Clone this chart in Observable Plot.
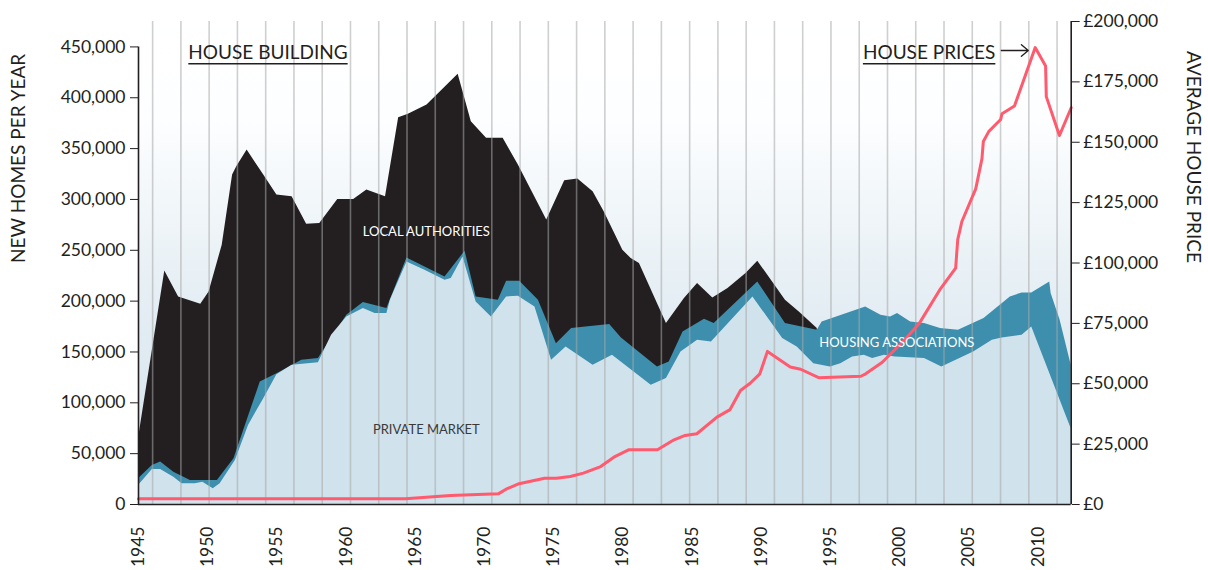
<!DOCTYPE html>
<html><head><meta charset="utf-8">
<script src="https://cdn.jsdelivr.net/npm/d3@7"></script>
<script src="https://cdn.jsdelivr.net/npm/@observablehq/plot@0.6"></script>
<style>
html,body{margin:0;padding:0;background:#fff;}
#chart{width:1208px;height:570px;}
svg{display:block;}
</style></head><body><div id="chart"></div>
<script>
// ---- Data ----
// Total completions (top of local authorities band)
const totalYears  = [1945.0,1946.9,1947.9,1949.5,1950.1,1951.05,1951.8,1952.1,1952.85,1954.05,1955.0,1956.1,1957.15,1958.1,1959.4,1960.55,1961.5,1962.85,1963.8,1964.5,1965.85,1967.55,1968.1,1969.05,1970.15,1971.35,1972.45,1974.5,1975.8,1976.75,1977.85,1978.65,1980.0,1980.6,1981.2,1983.15,1984.45,1985.4,1986.5,1987.6,1988.9,1989.75,1991.75,1992.75,1994.05];
const totalValues = [65000,229700,204100,196900,209000,255000,324000,332100,348600,324000,304300,302600,275700,276400,300000,300000,309200,302600,380400,383700,392900,415800,423100,376400,360100,360100,333800,279700,318400,320000,307500,287800,250100,241900,237000,177900,202500,217300,203100,212400,227200,239300,200900,189400,173000];

// Private market + housing associations (top of housing associations band)
const haYears  = [1945.0,1946.0,1946.6,1947.55,1948.75,1950.7,1951.9,1953.8,1955.0,1956.8,1958.0,1960.05,1961.25,1962.95,1964.4,1967.15,1968.6,1969.4,1970.15,1971.0,1971.6,1972.55,1973.9,1975.2,1976.3,1979.05,1979.9,1982.5,1983.35,1984.35,1985.9,1986.6,1989.75,1991.75,1994.05,1994.4,1997.55,1998.65,1999.35,1999.85,2000.8,2001.8,2002.95,2004.25,2006.1,2008.0,2008.85,2009.55,2010.85,2010.95,2011.6,2012.4];
const haValues = [25300,38400,41700,31800,23600,23600,45000,120400,128700,141800,143500,186100,198600,192700,242500,223800,249100,204100,202500,200900,219600,219600,200900,158200,173000,176900,163800,135200,140100,169700,182200,177900,218900,177900,171300,179500,194300,186100,184400,187800,179500,177900,173000,171300,182900,204100,208100,208100,218900,207500,181200,136900];

// Private market
const privateYears  = [1945.0,1946.0,1946.6,1947.55,1948.15,1949.1,1949.65,1950.4,1950.9,1952.0,1952.95,1954.05,1955.0,1956.1,1958.0,1958.95,1960.05,1961.25,1962.1,1962.95,1963.2,1964.4,1965.7,1967.15,1967.6,1968.45,1969.4,1970.5,1971.6,1972.45,1973.65,1974.85,1975.9,1977.85,1979.25,1982.05,1983.15,1984.2,1985.4,1986.4,1989.4,1991.55,1992.6,1993.8,1995.0,1995.75,1996.6,1997.45,1998.05,1998.9,1999.7,2001.8,2003.05,2005.35,2006.7,2007.4,2008.85,2009.55,2012.4];
const privateValues = [18700,34500,34500,26900,20400,20400,22000,15500,20400,43300,77800,104100,127700,136900,139500,166400,184400,192700,187800,187800,200900,238600,230400,220600,222200,243500,199200,184400,204100,204800,194300,141800,154900,136900,146700,117200,123800,150000,161500,159800,204100,163200,154900,138500,135200,138500,145000,146700,143500,146700,145000,143500,135200,150000,161500,163800,166400,174600,74500];

// Average house price (£)
const priceYears  = [1945.0,1964.3,1967.55,1971.0,1971.65,1972.5,1973.25,1974.35,1975.2,1976.2,1977.15,1978.4,1979.35,1980.45,1982.5,1983.7,1984.5,1985.35,1986.8,1987.75,1988.5,1989.2,1989.9,1990.45,1992.1,1992.85,1994.15,1997.2,1997.55,1998.75,2000.2,2001.4,2002.95,2004.05,2004.2,2004.5,2005.5,2005.95,2006.05,2006.45,2007.3,2007.4,2008.3,2009.8,2010.55,2010.6,2011.55,2012.4];
const priceValues = [2400,2400,3700,4400,6600,8600,9500,10900,10900,11600,13000,15700,19600,22700,22700,26800,28600,29300,36200,39300,47200,50200,54100,63400,56900,56000,52500,53100,54100,58900,67200,74800,89300,97900,109700,117200,130700,143100,150300,154500,159400,161800,165000,189200,181600,168900,152800,164300];

// Ticks
const yearTicks  = [1945,1950,1955,1960,1965,1970,1975,1980,1985,1990,1995,2000,2005,2010];
const homesTicks = [0,50000,100000,150000,200000,250000,300000,350000,400000,450000];
const priceTicks = [0,25000,50000,75000,100000,125000,150000,175000,200000];

// Labels
const areaLabels = [
  {text: "LOCAL AUTHORITIES", year: 1965.8, value: 268500, color: "#ffffff"},
  {text: "PRIVATE MARKET", year: 1965.8, value: 73800, color: "#3a3a3a"},
  {text: "HOUSING ASSOCIATIONS", year: 1999.8, value: 159300, color: "#ffffff"}
];
const titleLeft  = [{text: "HOUSE BUILDING", year: 1948.6, value: 438300}];
const titleRight = [{text: "HOUSE PRICES", year: 2006.92, value: 438300}];
const titleArrow = [{x1: 2007.35, x2: 2009.3, y1: 446500, y2: 446500}];

// ---- Build ----
const rows = (xs, ys) => xs.map((x, i) => ({year: x, value: ys[i]}));
const totalRows = rows(totalYears, totalValues);
const haRows = rows(haYears, haValues);
const privateRows = rows(privateYears, privateValues);
const priceRows = rows(priceYears, priceValues);

const xDomain = [1945, 2012.4];
const leftMax = 475000;
const priceMax = 200000;
const k = leftMax / priceMax;
const gridYears = d3.range(33).map(i => xDomain[0] + (i + 0.5) * (xDomain[1] - xDomain[0]) / 33);
const ink = "#231f20";
const fmt = d3.format(",");

const chart = Plot.plot({
  width: 1208, height: 570,
  marginLeft: 138, marginRight: 137.3, marginTop: 21, marginBottom: 66,
  style: {fontFamily: "Lato, 'Open Sans', sans-serif", fontSize: "17.5px", color: ink, background: "transparent", overflow: "visible"},
  x: {domain: xDomain},
  y: {domain: [0, leftMax]},
  marks: [
    Plot.frame({fill: "url(#bgGrad)", stroke: "none"}),
    Plot.areaY(totalRows, {x: "year", y1: 0, y2: "value", fill: ink}),
    Plot.areaY(haRows, {x: "year", y1: 0, y2: "value", fill: "#3d8fad"}),
    Plot.areaY(privateRows, {x: "year", y1: 0, y2: "value", fill: "#d0e2ec"}),
    Plot.ruleX(gridYears, {y1: 0, y2: leftMax, stroke: "#a8a8a8", strokeOpacity: 0.55, strokeWidth: 1.6}),
    Plot.lineY(priceRows, {x: "year", y: d => d.value * k, stroke: "#ff5a6e", strokeWidth: 3, strokeLinejoin: "round"}),
    Plot.ruleY([0], {stroke: ink, strokeWidth: 1.6}),
    Plot.ruleX([xDomain[0]], {y1: 0, y2: 450000, stroke: ink, strokeWidth: 1.6}),
    Plot.ruleX([xDomain[1]], {y1: 0, y2: leftMax, stroke: ink, strokeWidth: 1.6}),
    Plot.axisY({anchor: "left", ticks: homesTicks, tickFormat: fmt, tickSize: 8, tickPadding: 5, label: null, fontSize: 17.5}),
    Plot.axisY({anchor: "right", ticks: priceTicks.map(p => p * k), tickFormat: d => "£" + fmt(Math.round(d / k)), tickSize: 8, tickPadding: 4, label: null, fontSize: 17.5}),
    Plot.axisX({ticks: yearTicks, tickFormat: d => String(d), tickRotate: -90, tickSize: 0, tickPadding: 22, label: null, fontSize: 17.5}),
    Plot.text(areaLabels, {x: "year", y: "value", text: "text", fill: "color", fontSize: 13, textAnchor: "middle"}),
    Plot.text(titleLeft, {x: "year", y: "value", text: "text", textAnchor: "start", lineAnchor: "bottom", fontSize: 19, fill: ink}),
    Plot.text(titleRight, {x: "year", y: "value", text: "text", textAnchor: "end", lineAnchor: "bottom", fontSize: 19, fill: ink}),
    Plot.arrow(titleArrow, {x1: "x1", y1: "y1", x2: "x2", y2: "y2", stroke: ink, strokeWidth: 1.3, headLength: 11, headAngle: 80}),
    Plot.text(["NEW HOMES PER YEAR"], {frameAnchor: "left", rotate: -90, dx: -120, fontSize: 19, fill: ink}),
    Plot.text(["AVERAGE HOUSE PRICE"], {frameAnchor: "right", rotate: 90, dx: 122, fontSize: 19, fill: ink})
  ]
});

document.getElementById("chart").appendChild(chart);

// gradient background
const defs = d3.select(chart).insert("defs", ":first-child");
const grad = defs.append("linearGradient").attr("id", "bgGrad")
  .attr("x1", 0).attr("y1", 0).attr("x2", 0).attr("y2", 1);
[[0, "#ffffff"], [0.2, "#fdfeff"], [0.6, "#e3edf3"], [1, "#d3e3ed"]].forEach(([o, c]) =>
  grad.append("stop").attr("offset", o).attr("stop-color", c));

// underline titles
d3.select(chart).selectAll("text").each(function() {
  const t = this.textContent;
  if (t === "HOUSE BUILDING" || t === "HOUSE PRICES") {
    const b = this.getBBox();
    const m = this.getCTM();
    const sx = b.x + (m ? m.e : 0), sy = b.y + (m ? m.f : 0);
    const uy = sy + b.height * 0.82 + 5;
    d3.select(chart).append("line")
      .attr("x1", sx).attr("x2", sx + b.width)
      .attr("y1", uy).attr("y2", uy)
      .attr("stroke", ink).attr("stroke-width", 1.5);
  }
});
</script>
</body></html>
